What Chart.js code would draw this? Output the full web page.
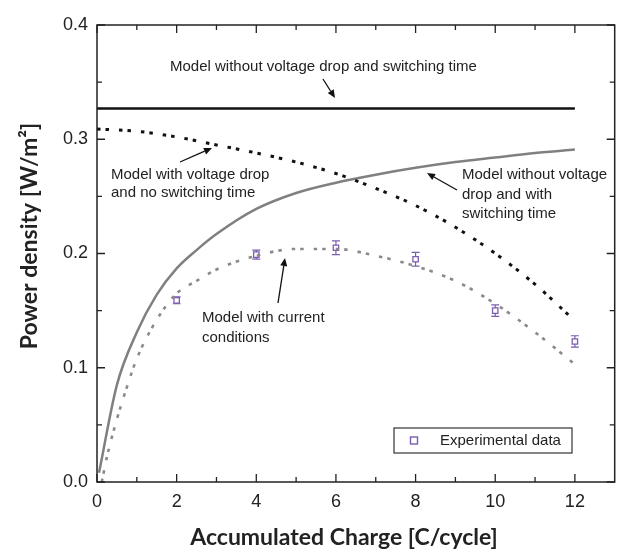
<!DOCTYPE html>
<html><head><meta charset="utf-8">
<script src="https://cdn.jsdelivr.net/npm/chart.js@4.4.1/dist/chart.umd.min.js"></script>
<style>html,body{margin:0;padding:0;background:#fff}#wrap{width:620px;height:549px}</style>
</head><body><div id="wrap"><canvas id="c" width="620" height="549"></canvas></div>
<script>
// ---- data ----
const xTickValues = [0, 2, 4, 6, 8, 10, 12];
const xTickLabels = ['0', '2', '4', '6', '8', '10', '12'];
const yTickValues = [0, 0.1, 0.2, 0.3, 0.4];
const yTickLabels = ['0.0', '0.1', '0.2', '0.3', '0.4'];

const idealX = [0, 12];
const idealY = [0.327, 0.327];

const vdropX = [0, 1, 2, 3, 4, 5, 6, 7, 8, 9, 10, 11, 12];
const vdropY = [0.309, 0.307, 0.302, 0.295, 0.288, 0.280, 0.270, 0.257, 0.242, 0.223, 0.200, 0.173, 0.141];

const switchX = [0.05, 0.5, 1, 1.5, 2, 2.5, 3, 4, 5, 6, 7, 8, 9, 10, 11, 12];
const switchY = [0.008, 0.085, 0.131, 0.164, 0.187, 0.203, 0.217, 0.239, 0.253, 0.262, 0.269, 0.275, 0.280, 0.284, 0.288, 0.291];

const currentX = [0.12, 0.25, 0.5, 0.75, 1, 1.5, 2, 2.5, 3, 4, 5, 6, 7, 8, 9, 10, 11, 12];
const currentY = [0, 0.022, 0.055, 0.083, 0.108, 0.142, 0.165, 0.176, 0.186, 0.198, 0.204, 0.204, 0.198, 0.189, 0.176, 0.156, 0.131, 0.103];

const expX = [2, 4, 6, 8, 10, 12];
const expY = [0.159, 0.199, 0.205, 0.195, 0.150, 0.123];
const expErr = [0.003, 0.004, 0.006, 0.006, 0.005, 0.005];

const seriesNames = [
  'Model without voltage drop and switching time',
  'Model with voltage drop and no switching time',
  'Model without voltage drop and with switching time',
  'Model with current conditions',
  'Experimental data'
];

// ---- helpers ----
const pts = (xs, ys) => xs.map((x, i) => ({x: x, y: ys[i]}));
const INK = '#222';
const GRAY = '#808080';
const PURPLE = '#7a5db0';
const SANS = '"Liberation Sans", Arial, sans-serif';
const TITLEFONT = 'bold 23px Lato, "Open Sans", sans-serif';

// annotation layout (pixels)
const notes = [
  {lines: ['Model without voltage drop and switching time'], x: 170, y: 67, dy: 18, arrow: [323, 79, 335, 98]},
  {lines: ['Model with voltage drop', 'and no switching time'], x: 111, y: 175, dy: 17.5, arrow: [180, 162, 212, 148]},
  {lines: ['Model without voltage', 'drop and with', 'switching time'], x: 462, y: 175, dy: 19.5, arrow: [457, 190, 427, 173]},
  {lines: ['Model with current', 'conditions'], x: 202, y: 318, dy: 20, arrow: [278, 303, 285, 258]}
];

function arrow(ctx, x1, y1, x2, y2) {
  const ang = Math.atan2(y2 - y1, x2 - x1), L = 8, W = 3.5;
  const bx = x2 - L * Math.cos(ang), by = y2 - L * Math.sin(ang);
  ctx.beginPath(); ctx.moveTo(x1, y1); ctx.lineTo(bx, by); ctx.stroke();
  ctx.beginPath();
  ctx.moveTo(x2, y2);
  ctx.lineTo(bx + W * Math.sin(ang), by - W * Math.cos(ang));
  ctx.lineTo(bx - W * Math.sin(ang), by + W * Math.cos(ang));
  ctx.closePath(); ctx.fill();
}

const overlay = {
  id: 'overlay',
  beforeDatasetsDraw(chart) {
    const ctx = chart.ctx, xs = chart.scales.x, ys = chart.scales.y;
    ctx.save();
    ctx.strokeStyle = PURPLE; ctx.lineWidth = 1.2;
    expX.forEach((x, i) => {
      const px = xs.getPixelForValue(x);
      const lo = ys.getPixelForValue(expY[i] - expErr[i]);
      const hi = ys.getPixelForValue(expY[i] + expErr[i]);
      ctx.beginPath();
      ctx.moveTo(px, lo); ctx.lineTo(px, hi);
      ctx.moveTo(px - 4, lo); ctx.lineTo(px + 4, lo);
      ctx.moveTo(px - 4, hi); ctx.lineTo(px + 4, hi);
      ctx.stroke();
    });
    ctx.restore();
  },
  afterDraw(chart) {
    const ctx = chart.ctx, a = chart.chartArea, xs = chart.scales.x, ys = chart.scales.y;
    ctx.save();
    // frame
    ctx.strokeStyle = INK; ctx.lineWidth = 1.5;
    ctx.strokeRect(a.left, a.top, a.right - a.left, a.bottom - a.top);
    // ticks (inward, mirrored)
    ctx.lineWidth = 1.3;
    ctx.beginPath();
    for (let v = 0; v <= 12; v += 1) {
      const p = xs.getPixelForValue(v), L = (v % 2 === 0) ? 8 : 5;
      ctx.moveTo(p, a.bottom); ctx.lineTo(p, a.bottom - L);
      ctx.moveTo(p, a.top); ctx.lineTo(p, a.top + L);
    }
    for (let k = 0; k <= 8; k++) {
      const v = k * 0.05, p = ys.getPixelForValue(v), L = (k % 2 === 0) ? 8 : 5;
      ctx.moveTo(a.left, p); ctx.lineTo(a.left + L, p);
      ctx.moveTo(a.right, p); ctx.lineTo(a.right - L, p);
    }
    ctx.stroke();
    // axis titles
    ctx.fillStyle = INK; ctx.font = TITLEFONT;
    ctx.textAlign = 'center'; ctx.textBaseline = 'middle';
    ctx.fillText('Accumulated Charge [C/cycle]', 344, 538);
    ctx.save(); ctx.translate(30, 236); ctx.rotate(-Math.PI / 2);
    ctx.fillText('Power density [W/m\u00B2]', 0, 0); ctx.restore();
    // annotations
    ctx.font = '15px ' + SANS; ctx.textAlign = 'left';
    ctx.strokeStyle = '#111'; ctx.fillStyle = '#111'; ctx.lineWidth = 1.3;
    notes.forEach(n => {
      ctx.fillStyle = INK;
      n.lines.forEach((t, i) => ctx.fillText(t, n.x, n.y + i * n.dy));
      ctx.fillStyle = '#111';
      arrow(ctx, n.arrow[0], n.arrow[1], n.arrow[2], n.arrow[3]);
    });
    // legend
    ctx.fillStyle = '#fff'; ctx.strokeStyle = '#333'; ctx.lineWidth = 1.2;
    ctx.fillRect(394, 428, 178, 25); ctx.strokeRect(394, 428, 178, 25);
    ctx.strokeStyle = PURPLE; ctx.lineWidth = 1.4;
    ctx.strokeRect(410.5, 437, 7, 7);
    ctx.fillStyle = INK; ctx.font = '15px ' + SANS; ctx.textBaseline = 'middle';
    ctx.fillText(seriesNames[4], 440, 441);
    ctx.restore();
  }
};

const dotDash = [3.5, 5, 3.5, 10];

new Chart(document.getElementById('c'), {
  type: 'line',
  data: {
    datasets: [
      {label: seriesNames[0], data: pts(idealX, idealY), borderColor: '#111', borderWidth: 2.5, pointRadius: 0, fill: false},
      {label: seriesNames[1], data: pts(vdropX, vdropY), borderColor: '#111', borderWidth: 3, borderDash: dotDash, pointRadius: 0, cubicInterpolationMode: 'monotone', fill: false},
      {label: seriesNames[2], data: pts(switchX, switchY), borderColor: GRAY, borderWidth: 2.5, pointRadius: 0, cubicInterpolationMode: 'monotone', fill: false},
      {label: seriesNames[3], data: pts(currentX, currentY), borderColor: '#8a8a8a', borderWidth: 2.6, borderDash: dotDash, pointRadius: 0, cubicInterpolationMode: 'monotone', fill: false},
      {label: seriesNames[4], data: pts(expX, expY), showLine: false, pointStyle: 'rect', pointRadius: 3.8, pointBorderWidth: 1.3, pointBorderColor: PURPLE, pointBackgroundColor: '#fff', borderColor: PURPLE}
    ]
  },
  options: {
    responsive: false, animation: false, devicePixelRatio: 1,
    layout: {padding: {top: 25, right: 1, left: 0, bottom: 0}},
    plugins: {legend: {display: false}, tooltip: {enabled: false}},
    scales: {
      x: {
        type: 'linear', min: 0, max: 13,
        grid: {display: false, drawTicks: false}, border: {display: false},
        afterBuildTicks: s => { s.ticks = xTickValues.map(v => ({value: v})); },
        afterFit: s => { s.height = 67; },
        ticks: {padding: 9, color: INK, font: {family: SANS, size: 18},
                callback: (v) => xTickLabels[xTickValues.indexOf(v)], maxRotation: 0}
      },
      y: {
        type: 'linear', min: 0, max: 0.4,
        grid: {display: false, drawTicks: false}, border: {display: false},
        afterBuildTicks: s => { s.ticks = yTickValues.map(v => ({value: v})); },
        afterFit: s => { s.width = 97; },
        ticks: {padding: 9, color: INK, font: {family: SANS, size: 18},
                callback: (v) => yTickLabels[yTickValues.findIndex(t => Math.abs(t - v) < 1e-9)]}
      }
    }
  },
  plugins: [overlay]
});
</script>
</body></html>
